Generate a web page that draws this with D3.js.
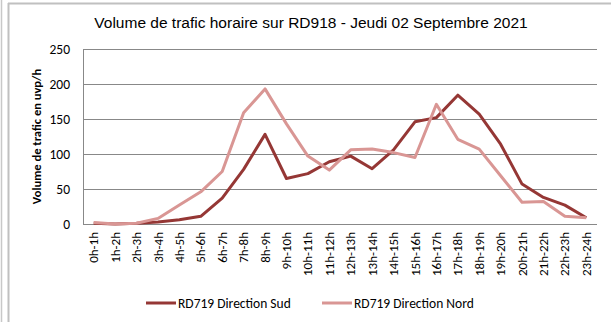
<!DOCTYPE html>
<html>
<head>
<meta charset="utf-8">
<script src="https://cdn.jsdelivr.net/npm/d3@7"></script>
<style>
  html, body { margin: 0; padding: 0; background: #fff; }
  svg { display: block; }
</style>
</head>
<body>
<svg id="chart" width="611" height="322"></svg>
<script>
// Hourly traffic volumes on RD918, Thursday 2 September 2021
const hours = ["0h-1h","1h-2h","2h-3h","3h-4h","4h-5h","5h-6h","6h-7h","7h-8h","8h-9h","9h-10h","10h-11h","11h-12h",
  "12h-13h","13h-14h","14h-15h","15h-16h","16h-17h","17h-18h","18h-19h","19h-20h","20h-21h","21h-22h","22h-23h","23h-24h"];
const sud = [1, 0, 1, 3, 6, 11, 37, 78, 128, 65, 72, 89, 97, 79, 106, 146, 152, 184, 157, 114, 57, 38, 27, 9];
const nord = [2, 0, 1, 8, 27, 46, 75, 159, 193, 143, 97, 77, 106, 107, 102, 95, 171, 121, 107, 69, 31, 32, 11, 9];
const yTicks = [0, 50, 100, 150, 200, 250];
const seriesNames = ["RD719 Direction Sud", "RD719 Direction Nord"];
const seriesColors = ["#953735", "#d99694"];

const svg = d3.select("#chart");
const margin = { left: 83, right: 14, top: 49, bottom: 98 };
const W = 611, H = 322;
const bodyFont = "Carlito, Lato, 'Open Sans', sans-serif";

// chart frame
svg.append("line").attr("x1", 1.5).attr("x2", 1.5).attr("y1", 0).attr("y2", H)
  .attr("stroke", "#c8c8c8").attr("stroke-width", 1.5);
svg.append("line").attr("x1", 8.5).attr("x2", 8.5).attr("y1", 3).attr("y2", H)
  .attr("stroke", "#c0c0c0").attr("stroke-width", 2);
svg.append("line").attr("x1", 8).attr("x2", W).attr("y1", 3.5).attr("y2", 3.5)
  .attr("stroke", "#c0c0c0").attr("stroke-width", 2);

const x = d3.scaleBand().domain(hours).range([margin.left, W - margin.right]);
const y = d3.scaleLinear().domain([0, 250]).range([H - margin.bottom, margin.top]);

// gridlines
svg.append("g").selectAll("line").data(yTicks).join("line")
  .attr("x1", margin.left).attr("x2", W - margin.right)
  .attr("y1", d => Math.round(y(d)) + 0.5).attr("y2", d => Math.round(y(d)) + 0.5)
  .attr("stroke", "#888").attr("stroke-width", 1);
svg.append("line")
  .attr("x1", margin.left + 0.5).attr("x2", margin.left + 0.5)
  .attr("y1", y(250)).attr("y2", y(0))
  .attr("stroke", "#888").attr("stroke-width", 1);

// y axis labels
const yAxis = d3.axisLeft(y).tickValues(yTicks).tickSize(0).tickPadding(13);
const gy = svg.append("g").attr("transform", `translate(${margin.left},0)`).call(yAxis);
gy.select(".domain").remove();
gy.selectAll("text").attr("font-family", bodyFont)
  .attr("font-size", 13.5).attr("fill", "#000");

// x axis labels (rotated)
const xAxis = d3.axisBottom(x).tickSize(0).tickPadding(0);
const gx = svg.append("g").attr("transform", `translate(0,${y(0)})`).call(xAxis);
gx.select(".domain").remove();
gx.selectAll("text")
  .attr("font-family", bodyFont)
  .attr("font-size", 13).attr("fill", "#000")
  .attr("text-anchor", "end")
  .attr("dy", "0.35em")
  .attr("transform", "translate(0,8) rotate(-90)");

// y axis title
svg.append("text")
  .attr("transform", `translate(41,${(y(0) + y(250)) / 2}) rotate(-90)`)
  .attr("text-anchor", "middle")
  .attr("font-family", bodyFont)
  .attr("font-size", 12.5).attr("font-weight", "bold")
  .text("Volume de trafic en uvp/h");

// chart title
svg.append("text")
  .attr("x", 311).attr("y", 28)
  .attr("text-anchor", "middle")
  .attr("font-family", "'Liberation Sans', Arial, sans-serif")
  .attr("font-size", 15.5)
  .text("Volume de trafic horaire sur RD918 - Jeudi 02 Septembre 2021");

// series lines
const line = d3.line()
  .x((d, i) => x(hours[i]) + x.bandwidth() / 2)
  .y(d => y(d));
[sud, nord].forEach((vals, k) => {
  svg.append("path").datum(vals)
    .attr("fill", "none")
    .attr("stroke", seriesColors[k])
    .attr("stroke-width", 3)
    .attr("stroke-linejoin", "round")
    .attr("d", line);
});

// legend
const legendX = [146, 322];
seriesNames.forEach((name, k) => {
  const g = svg.append("g").attr("transform", `translate(${legendX[k]},303)`);
  g.append("line").attr("x1", 0).attr("x2", 30).attr("y1", 0).attr("y2", 0)
    .attr("stroke", seriesColors[k]).attr("stroke-width", 3);
  g.append("text").attr("x", 32).attr("y", 0).attr("dy", "0.35em")
    .attr("font-family", bodyFont)
    .attr("font-size", 13.5)
    .text(name);
});
</script>
</body>
</html>
